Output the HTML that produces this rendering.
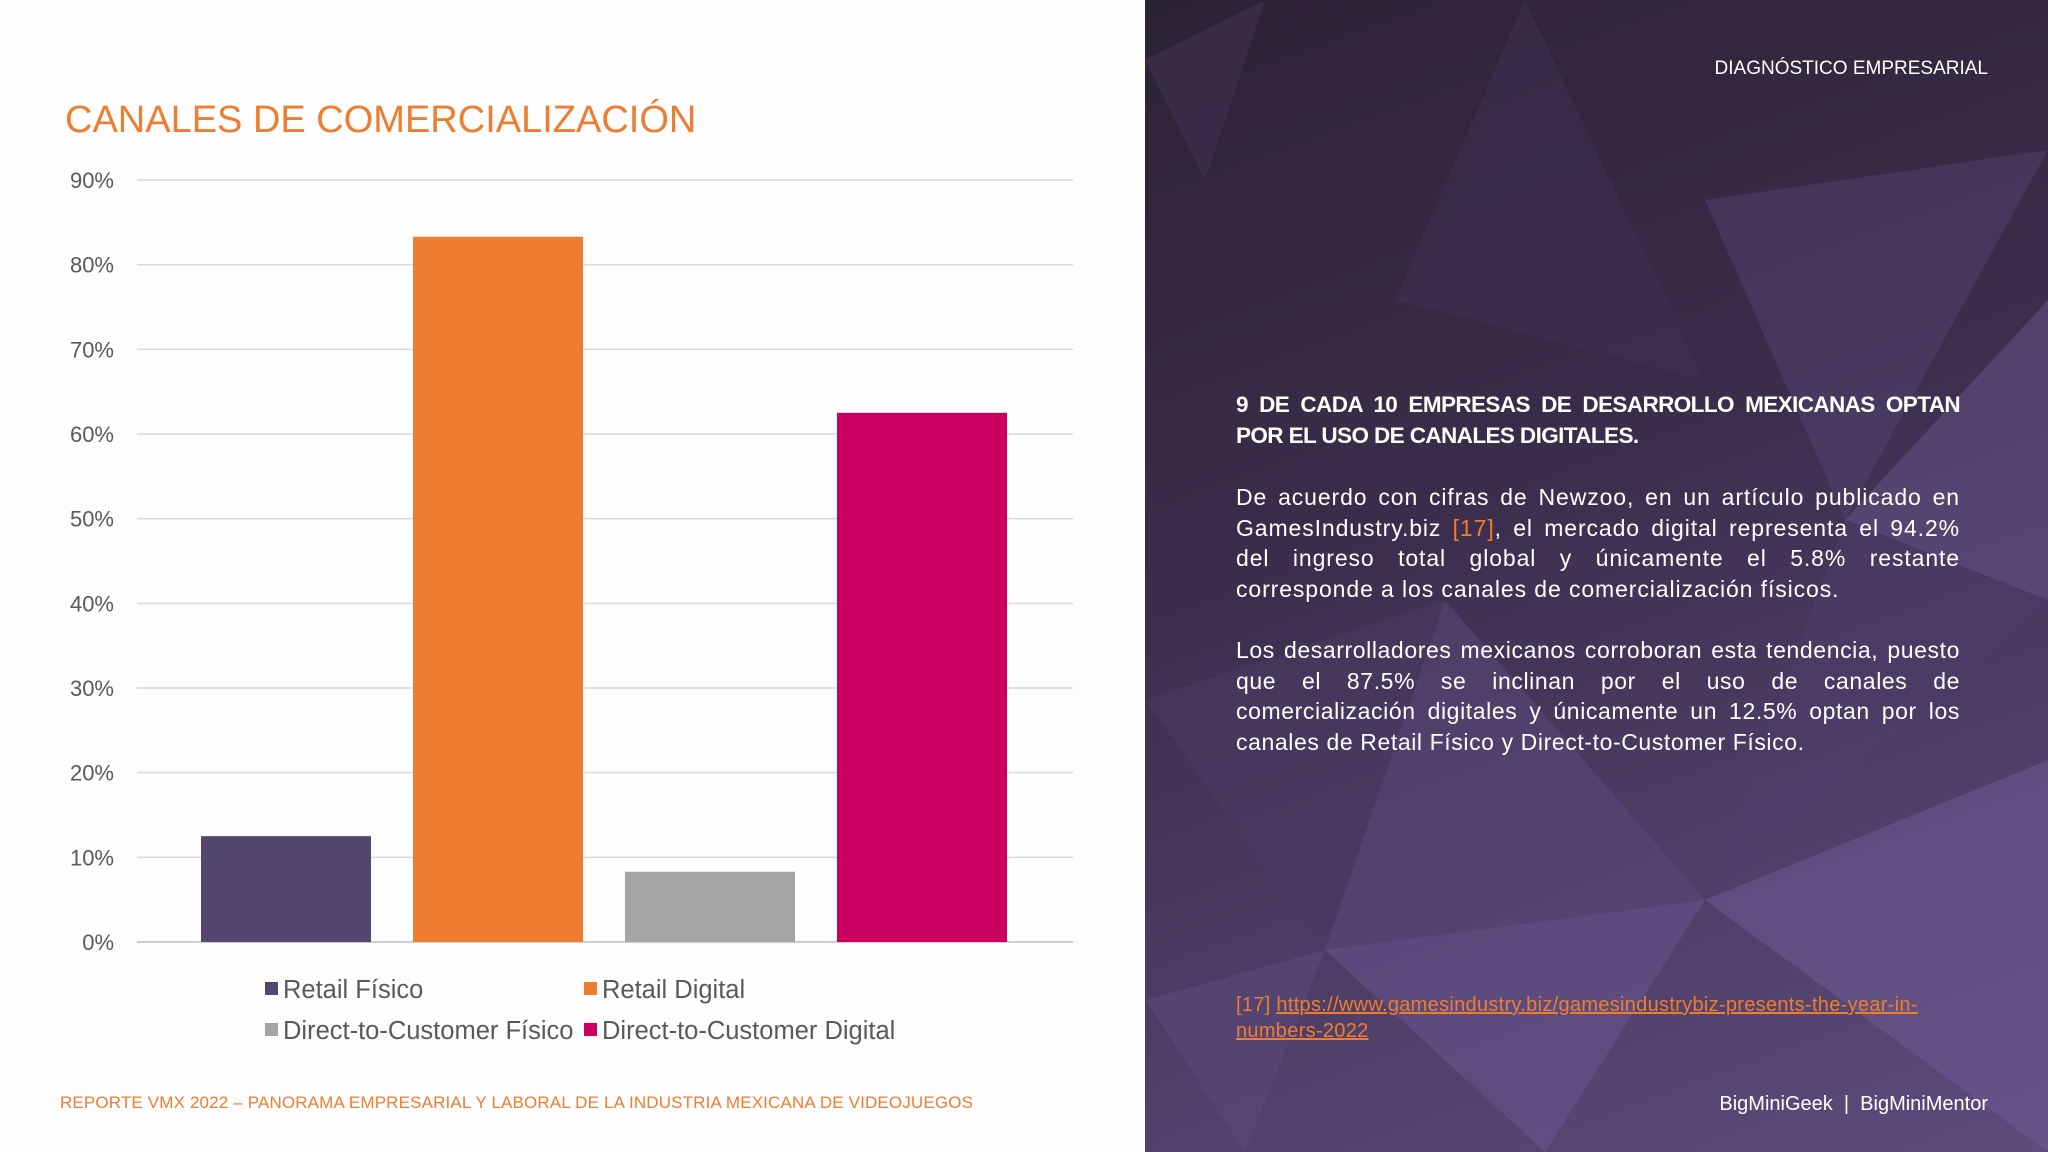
<!DOCTYPE html>
<html><head><meta charset="utf-8">
<style>
body{margin:0;width:2048px;height:1152px;overflow:hidden;background:#fdfdfd;font-family:"Liberation Sans",sans-serif;position:relative}
.abs{position:absolute}
#panel{left:1145px;top:0;width:903px;height:1152px;background:linear-gradient(160deg,#2c2235 0%,#3a2d4a 40%,#4d3d66 70%,#5d4c7c 100%);overflow:hidden}
.rt{color:#fff}
.rt div{text-align:justify;text-align-last:justify;white-space:nowrap}
.rt div.last{text-align-last:left}
</style></head><body>
<div class="abs" style="left:65px;top:99px;font-size:38px;color:#ed7d31;">CANALES DE COMERCIALIZACIÓN</div>
<svg class="abs" style="left:0;top:0" width="1145" height="1152">
<g id="grid"></g><g id="bars"></g><g id="ticks"></g><g id="legend"></g>
</svg>
<div class="abs" style="left:60px;top:1093px;font-size:17px;letter-spacing:0.15px;color:#ed7d31;">REPORTE VMX 2022 – PANORAMA EMPRESARIAL Y LABORAL DE LA INDUSTRIA MEXICANA DE VIDEOJUEGOS</div>

<div class="abs" id="panel">
<svg width="903" height="1152" style="position:absolute;left:0;top:0">
<polygon points="0,60 120,0 60,180" fill="#3d3050" opacity=".6"/>
<polygon points="380,0 560,380 250,300" fill="#3e3152" opacity=".5"/>
<polygon points="560,200 903,150 700,520" fill="#514270" opacity=".5"/>
<polygon points="700,520 903,300 903,600" fill="#6a5990" opacity=".45"/>
<polygon points="0,700 300,600 180,950" fill="#4a3b63" opacity=".6"/>
<polygon points="300,600 560,900 180,950" fill="#5b4a7c" opacity=".5"/>
<polygon points="560,900 903,760 903,1152" fill="#6d5c94" opacity=".5"/>
<polygon points="180,950 560,900 400,1152" fill="#675790" opacity=".5"/>
<polygon points="0,1000 180,950 100,1152" fill="#5a4a7a" opacity=".6"/>
<polygon points="700,520 903,600 560,900" fill="#4c3d69" opacity=".5"/>
</svg>
<div class="abs" style="right:60px;top:58px;font-size:19px;color:#fff;">DIAGNÓSTICO EMPRESARIAL</div>
<div class="abs rt" style="left:91px;width:724px;top:390px;font-size:22.5px;font-weight:bold;letter-spacing:-0.6px;line-height:30.7px;"><div>9 DE CADA 10 EMPRESAS DE DESARROLLO MEXICANAS OPTAN</div><div class="last">POR EL USO DE CANALES DIGITALES.</div></div>
<div class="abs rt" style="left:91px;width:724px;top:482px;font-size:23px;letter-spacing:0.9px;line-height:30.6px;"><div>De acuerdo con cifras de Newzoo, en un artículo publicado en</div><div>GamesIndustry.biz <span style="color:#ed7d31">[17]</span>, el mercado digital representa el 94.2%</div><div>del ingreso total global y únicamente el 5.8% restante</div><div class="last">corresponde a los canales de comercialización físicos.</div></div>
<div class="abs rt" style="left:91px;width:724px;top:635px;font-size:23px;letter-spacing:0.6px;line-height:30.6px;"><div>Los desarrolladores mexicanos corroboran esta tendencia, puesto</div><div>que el 87.5% se inclinan por el uso de canales de</div><div>comercialización digitales y únicamente un 12.5% optan por los</div><div class="last">canales de Retail Físico y Direct-to-Customer Físico.</div></div>
<div class="abs" style="left:91px;width:700px;top:993px;font-size:20px;letter-spacing:0.3px;line-height:25.5px;color:#ed7d31;">[17] <span style="text-decoration:underline">https://www.gamesindustry.biz/gamesindustrybiz-presents-the-year-in-numbers-2022</span></div>
<div class="abs" style="right:60px;top:1093px;font-size:20px;color:#fff;">BigMiniGeek &nbsp;|&nbsp; BigMiniMentor</div>
</div>
<script>
const categories=["Retail Físico","Retail Digital","Direct-to-Customer Físico","Direct-to-Customer Digital"];
const values=[12.5,83.3,8.3,62.5];
const colors=["#54476f","#ed7d31","#a5a5a5","#c9005f"];
const ticks=[0,10,20,30,40,50,60,70,80,90];
const ns="http://www.w3.org/2000/svg";
const x0=137,x1=1073,y0=942,y90=180;
const y=v=>y0-(v/90)*(y0-y90);
const bw=170,slot=212,bstart=201;
function mk(t,a,p){const e=document.createElementNS(ns,t);for(const k in a)e.setAttribute(k,a[k]);p.appendChild(e);return e;}
const G=document.getElementById('grid'),B=document.getElementById('bars'),T=document.getElementById('ticks'),L=document.getElementById('legend');
ticks.forEach(t=>{
const l=mk('line',{x1:x0,x2:x1,y1:y(t),y2:y(t),stroke:t==0?'#bfbfbf':'#d9d9d9','stroke-width':1.5},G);


const tx=mk('text',{x:114,y:y(t)+8,'text-anchor':'end','font-size':22,fill:'#595959'},T);
tx.textContent=t+'%';


});
values.forEach((v,i)=>{
const r=mk('rect',{x:bstart+i*slot,y:y(v),width:bw,height:y0-y(v),fill:colors[i]},B);


});
const lpos=[[265,989],[584,989],[265,1030],[584,1030]];
categories.forEach((c,i)=>{
const g=mk('g',{},L);


mk('rect',{x:lpos[i][0],y:lpos[i][1]-7,width:13,height:13,fill:colors[i]},g);
const t=mk('text',{x:lpos[i][0]+18,y:lpos[i][1]+9,'font-size':25.5,fill:'#595959'},g);
t.textContent=c;
});
</script>
</body></html>
